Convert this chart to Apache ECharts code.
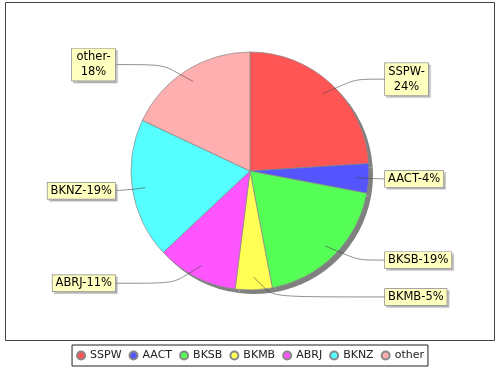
<!DOCTYPE html>
<html>
<head>
<meta charset="utf-8">
<script src="https://cdn.jsdelivr.net/npm/echarts@6/dist/echarts.min.js"></script>
<style>
html,body{margin:0;padding:0;background:#fff;}
#chart{width:500px;height:370px;}
</style>
</head>
<body>
<div id="chart"></div>
<script>
const categories = ['SSPW', 'AACT', 'BKSB', 'BKMB', 'ABRJ', 'BKNZ', 'other'];
const shareValues = [24, 4, 19, 5, 11, 19, 18];
const sliceColors = ['#FF5555', '#5555FF', '#55FF55', '#FFFF55', '#FF55FF', '#55FFFF', '#FFAFAF'];
const wrappedLabels = ['SSPW', 'other'];

const pieCenter = [250, 171];
const leftLabelEdge = 115;
const rightLabelEdge = 385;

const chart = echarts.init(document.getElementById('chart'), null, {renderer: 'canvas'});

const mainData = categories.map((name, i) => ({
  name: name,
  value: shareValues[i],
  itemStyle: {color: sliceColors[i]}
}));
const shadowData = categories.map((name, i) => ({name: name, value: shareValues[i]}));
const labelData = categories.map((name, i) => ({name: name, value: shareValues[i]}));

const option = {
  animation: false,
  backgroundColor: '#ffffff',
  graphic: [{
    type: 'rect',
    shape: {x: 5.5, y: 2.5, width: 489, height: 338},
    style: {fill: 'none', stroke: '#444', lineWidth: 1},
    silent: true,
    z: 0
  }],
  legend: {
    data: categories,
    top: 345,
    left: 'center',
    orient: 'horizontal',
    icon: 'circle',
    itemWidth: 8,
    itemHeight: 8,
    itemGap: 7,
    padding: [5, 4, 5, 4],
    borderColor: '#222',
    borderWidth: 1,
    backgroundColor: '#fff',
    textStyle: {fontFamily: 'DejaVu Sans', fontSize: 11, color: '#222'}
  },
  series: [
    {
      type: 'pie',
      name: 'main',
      z: 2,
      center: pieCenter,
      radius: 119,
      startAngle: 90,
      clockwise: true,
      silent: true,
      label: {show: false},
      labelLine: {show: false},
      itemStyle: {borderColor: '#888', borderWidth: 0.7},
      emphasis: {disabled: true},
      data: mainData
    },
    {
      type: 'pie',
      name: 'shadow',
      z: 1,
      center: [pieCenter[0] + 4, pieCenter[1] + 4],
      radius: 119,
      startAngle: 90,
      clockwise: true,
      silent: true,
      label: {show: false},
      labelLine: {show: false},
      itemStyle: {color: '#808080', borderWidth: 0},
      emphasis: {disabled: true},
      data: shadowData
    },
    {
      type: 'pie',
      name: 'labels',
      z: 3,
      center: pieCenter,
      radius: 106,
      startAngle: 90,
      clockwise: true,
      silent: true,
      avoidLabelOverlap: true,
      itemStyle: {color: 'rgba(0,0,0,0)', borderWidth: 0},
      emphasis: {disabled: true},
      label: {
        show: true,
        position: 'outside',
        distanceToLabelLine: 0,
        formatter: function (p) {
          const pct = Math.round(p.percent) + '%';
          if (wrappedLabels.indexOf(p.name) >= 0) {
            return '{c|' + p.name + '-}\n{c|' + pct + '}';
          }
          return p.name + '-' + pct;
        },
        rich: {
          c: {align: 'center', width: 37, fontFamily: 'DejaVu Sans', fontSize: 11.5, lineHeight: 15, color: '#000'}
        },
        fontFamily: 'DejaVu Sans',
        fontSize: 11.5,
        lineHeight: 14,
        color: '#000',
        backgroundColor: '#FFFFC0',
        borderColor: '#888',
        borderWidth: 0.7,
        padding: [1, 3, 1, 3],
        shadowColor: 'rgba(151,151,151,0.6)',
        shadowBlur: 1,
        shadowOffsetX: 2,
        shadowOffsetY: 2
      },
      labelLine: {
        show: true,
        length: 20,
        length2: 10,
        smooth: 1,
        lineStyle: {color: '#444', width: 0.6}
      },
      labelLayout: function (params) {
        const pts = params.labelLinePoints;
        const isLeft = params.labelRect.x + params.labelRect.width / 2 < pieCenter[0];
        const x = isLeft ? leftLabelEdge : rightLabelEdge;
        const res = {x: x, align: isLeft ? 'right' : 'left'};
        if (pts) {
          res.labelLinePoints = [pts[0], pts[1], [x, pts[2][1]]];
        }
        return res;
      },
      data: labelData
    }
  ]
};
chart.setOption(option);
</script>
</body>
</html>
